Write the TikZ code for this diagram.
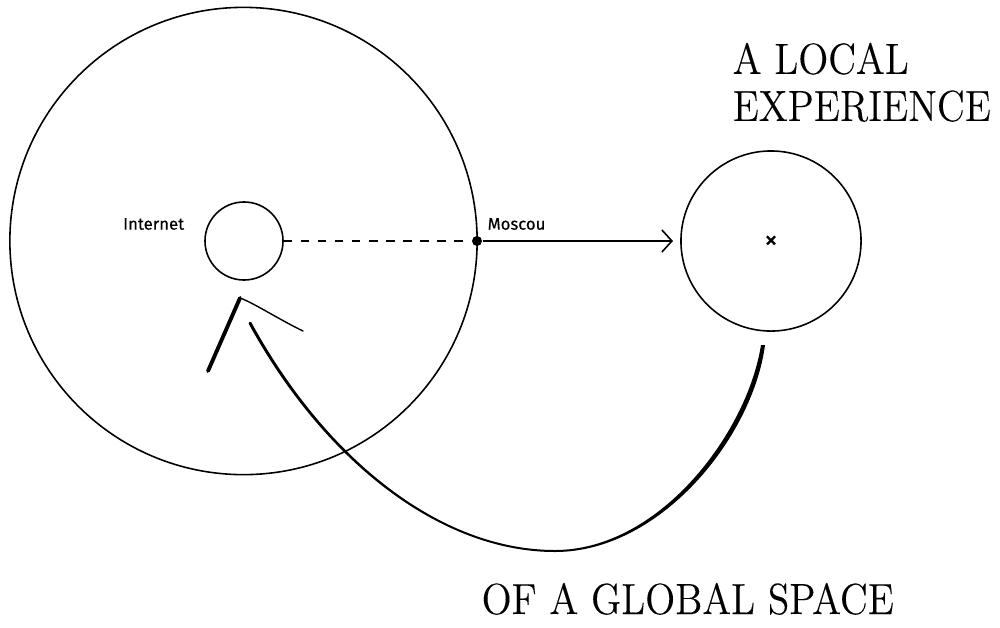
\documentclass[tikz,border=0pt]{standalone}
\usepackage{fontspec}
\setsansfont[FakeBold=0.35]{Fira Sans}
\newfontfamily\titlefont[FakeStretch=0.9,FakeBold=0.12]{Latin Modern Roman}
\usetikzlibrary{arrows.meta,calc}

\tikzset{
    thinline/.style={line width=0.45pt,color=black},
    placelabel/.style={font=\sffamily\fontsize{4.75}{5}\selectfont,inner sep=0pt},
    titlelabel/.style={font=\titlefont\fontsize{12.4}{13.4}\selectfont,inner sep=0pt,align=left}
}

\begin{document}
\begin{tikzpicture}[x=0.01cm,y=-0.01cm]
    \useasboundingbox (0,0) rectangle (1000,627);

    \node[circle,draw,thinline,minimum size=4.67cm,inner sep=0pt] (world) at (243.5,241) {};
    \node[circle,draw,thinline,minimum size=0.78cm,inner sep=0pt] (home) at (244,241) {};
    \node[circle,draw,thinline,minimum size=1.80cm,inner sep=0pt] (local) at (771,241) {};

    \node[circle,fill=black,minimum size=0.1cm,inner sep=0pt] (moscow) at (477,241) {};
    \node[font=\sffamily\fontsize{7.5}{7.5}\selectfont,inner sep=0pt] (cross) at (771,242) {×};
    \coordinate (arrowend) at (673,241);

    \draw[thinline,dash pattern=on 2.4pt off 2.45pt] (home) -- (moscow);
    \draw[thinline,-{Straight Barb[length=0.1cm,width=0.22cm]}] (moscow) -- (arrowend);

    \node[placelabel,anchor=west] (internet) at (122.5,224) {Internet};
    \node[placelabel,anchor=west] (moscou) at (487,224) {Moscou};
    \node[titlelabel,anchor=north west] (title) at (732,42) {A LOCAL\\EXPERIENCE};
    \node[titlelabel,anchor=base west] (bottom) at (481,614) {OF A GLOBAL SPACE};

    % the figure under the small circle
    \coordinate (top) at (240,298);
    \coordinate (foot) at (208,371);
    \coordinate (hand) at (303,331);
    \draw[line width=1.1pt,line cap=round] (top) -- (foot);
    \draw[line width=0.4pt,line cap=round] (top) .. controls (252,302) and (280,320) .. (hand);

    % the long curve back
    \coordinate (curvestart) at (763,345);
    \coordinate (curvelow) at (555,551);
    \coordinate (curveend) at (250,323);
    \fill (761,345) .. controls (747,433.5) and (659,550) .. (555,550)
        .. controls (440,550) and (326.2,459) .. (251.3,322.3)
        .. controls (250.5,320.8) and (248,322) .. (248.7,323.7)
        .. controls (323.8,461) and (440,552) .. (555,552)
        .. controls (661,552) and (753,436.5) .. (765,345) -- cycle;
\end{tikzpicture}
\end{document}
